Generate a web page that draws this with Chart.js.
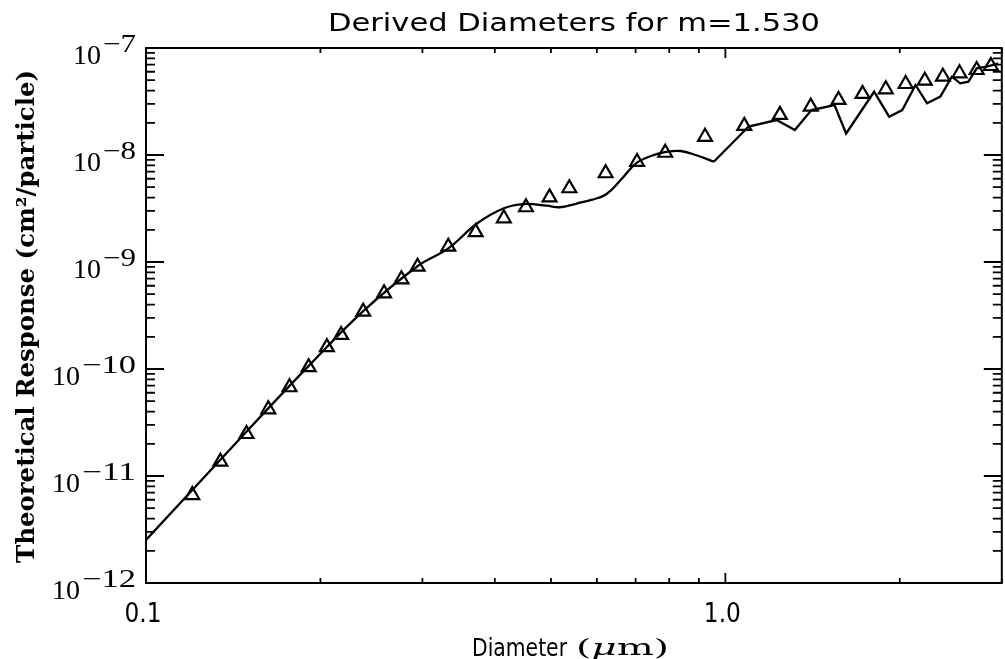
<!DOCTYPE html>
<html>
<head>
<meta charset="utf-8">
<title>Derived Diameters for m=1.530</title>
<script src="https://cdn.jsdelivr.net/npm/chart.js@4.4.1/dist/chart.umd.min.js"></script>
<style>
  html, body { margin: 0; padding: 0; background: #fff; }
  #wrap { width: 1005px; height: 659px; overflow: hidden; }
</style>
</head>
<body>
<div id="wrap"><canvas id="plot" width="1012" height="659"></canvas></div>
<script>
// Theoretical response, smooth rise up to ~0.95 um
const smoothDiam = [0.1, 0.1489, 0.1909, 0.2371, 0.2946, 0.3325, 0.3731, 0.4146, 0.4487,
  0.4919, 0.5176, 0.5537, 0.5872, 0.6229, 0.6608, 0.7012, 0.7439, 0.7894, 0.8374, 0.8884, 0.955];
const smoothResp = [2.52e-12, 2.58e-11, 1.07e-10, 3.48e-10, 9.18e-10, 1.34e-9, 2.30e-9, 3.18e-9, 3.48e-9,
  3.36e-9, 3.25e-9, 3.52e-9, 3.80e-9, 4.30e-9, 5.90e-9, 8.36e-9, 9.79e-9, 1.067e-8, 1.09e-8, 1.00e-8, 8.66e-9];

// Resonance region, sampled coarsely so it zig-zags
const ringDiam = [0.955, 1.082, 1.096, 1.226, 1.318, 1.408, 1.543, 1.616, 1.806, 1.917, 2.020,
  2.129, 2.229, 2.350, 2.460, 2.543, 2.627, 2.715, 2.824, 2.957];
const ringResp = [8.66e-9, 1.71e-8, 1.84e-8, 2.12e-8, 1.71e-8, 2.63e-8, 2.93e-8, 1.59e-8, 3.90e-8, 2.28e-8, 2.63e-8,
  4.51e-8, 3.04e-8, 3.51e-8, 5.39e-8, 4.68e-8, 4.84e-8, 6.46e-8, 6.68e-8, 7.19e-8];

// Derived diameters (triangles)
const derivedDiam = [0.1202, 0.1344, 0.1491, 0.1626, 0.1769, 0.1909, 0.2052, 0.2172, 0.2371, 0.2576,
  0.2760, 0.2943, 0.3325, 0.3707, 0.4146, 0.4527, 0.4972, 0.5379, 0.6214, 0.7040, 0.7873, 0.9223,
  1.078, 1.242, 1.404, 1.568, 1.725, 1.892, 2.047, 2.209, 2.374, 2.536, 2.715, 2.873];
const derivedResp = [6.64e-12, 1.36e-11, 2.47e-11, 4.20e-11, 6.75e-11, 1.04e-10, 1.60e-10, 2.08e-10, 3.43e-10, 5.10e-10,
  6.89e-10, 9.04e-10, 1.39e-9, 1.90e-9, 2.56e-9, 3.25e-9, 4.02e-9, 4.89e-9, 6.75e-9, 8.61e-9, 1.05e-8, 1.48e-8,
  1.87e-8, 2.37e-8, 2.83e-8, 3.27e-8, 3.72e-8, 4.11e-8, 4.61e-8, 4.95e-8, 5.39e-8, 5.80e-8, 6.23e-8, 6.79e-8];

// axis ticks
const xRange = [0.1, 3.0];
const yRange = [1e-12, 1e-7];
const xMajor = [0.1, 1.0];
const xTickLabels = ['0.1', '1.0'];
const xMinor = [0.2, 0.3, 0.4, 0.5, 0.6, 0.7, 0.8, 0.9, 2.0, 3.0];
const yExponents = [-12, -11, -10, -9, -8, -7];

const toPoints = (xs, ys) => xs.map((v, i) => ({ x: v, y: ys[i] }));

// stretch a string horizontally to a given width
function fitText(ctx, text, x, y, width, align) {
  const w = ctx.measureText(text).width;
  ctx.save();
  ctx.translate(x, y);
  ctx.scale(width / w, 1);
  ctx.textAlign = align;
  ctx.fillText(text, 0, 0);
  ctx.restore();
}

// IDL-style box: inward ticks on all four sides, plus all text
const idlFrame = {
  id: 'idlFrame',
  afterDraw(chart) {
    const { ctx, chartArea: a, scales: { x, y } } = chart;
    ctx.save();
    ctx.strokeStyle = '#000';
    ctx.fillStyle = '#000';
    ctx.lineWidth = 2;
    ctx.strokeRect(a.left, a.top, a.right - a.left, a.bottom - a.top);

    ctx.lineWidth = 1.8;
    ctx.beginPath();
    yExponents.forEach((e) => {
      const py = y.getPixelForValue(Math.pow(10, e));
      ctx.moveTo(a.left, py); ctx.lineTo(a.left + 18, py);
      ctx.moveTo(a.right, py); ctx.lineTo(a.right - 18, py);
      if (e === yExponents[yExponents.length - 1]) return;
      for (let k = 2; k <= 9; k++) {
        const pm = y.getPixelForValue(k * Math.pow(10, e));
        ctx.moveTo(a.left, pm); ctx.lineTo(a.left + 9, pm);
        ctx.moveTo(a.right, pm); ctx.lineTo(a.right - 9, pm);
      }
    });
    xMajor.forEach((v) => {
      const px = x.getPixelForValue(v);
      ctx.moveTo(px, a.bottom); ctx.lineTo(px, a.bottom - 10);
      ctx.moveTo(px, a.top); ctx.lineTo(px, a.top + 10);
    });
    xMinor.forEach((v) => {
      const px = x.getPixelForValue(v);
      ctx.moveTo(px, a.bottom); ctx.lineTo(px, a.bottom - 5);
      ctx.moveTo(px, a.top); ctx.lineTo(px, a.top + 5);
    });
    ctx.stroke();

    // y tick labels: 10 with a raised exponent
    ctx.textBaseline = 'alphabetic';
    yExponents.forEach((e) => {
      const py = y.getPixelForValue(Math.pow(10, e));
      const digits = String(Math.abs(e));
      const expW = 12 + 21 * digits.length;
      ctx.font = '25px "Liberation Serif"';
      fitText(ctx, '\u2212' + digits, 136, py + 4, expW, 'right');
      ctx.font = '28px "Liberation Serif"';
      fitText(ctx, '10', 134 - expW, py + 16, 28, 'right');
    });

    // x tick labels
    ctx.font = '27px "DejaVu Sans"';
    xMajor.forEach((v, i) => {
      const px = x.getPixelForValue(v);
      fitText(ctx, xTickLabels[i], px - 3, 622, 37, 'center');
    });

    // title
    ctx.font = '25px "DejaVu Sans"';
    fitText(ctx, 'Derived Diameters for m=1.530', 328, 31, 492, 'left');

    // x axis title: sans word, serif units with italic mu
    ctx.font = '25px "DejaVu Sans"';
    fitText(ctx, 'Diameter', 472, 656, 95, 'left');
    const parts = [
      ['(', '23px "DejaVu Serif"'],
      ['\u03bc', 'italic 23px "DejaVu Serif"'],
      ['m)', '23px "DejaVu Serif"'],
    ];
    let total = 0;
    parts.forEach(([t, f]) => { ctx.font = f; total += ctx.measureText(t).width; });
    const s = 93 / total;
    let cx = 576;
    parts.forEach(([t, f]) => {
      ctx.font = f;
      const w = ctx.measureText(t).width * s;
      fitText(ctx, t, cx, 655, w, 'left');
      cx += w;
    });

    // y axis title
    ctx.save();
    ctx.translate(34, 563);
    ctx.rotate(-Math.PI / 2);
    ctx.font = 'bold 24px "DejaVu Serif"';
    fitText(ctx, 'Theoretical Response (cm\u00b2/particle)', 0, 0, 493, 'left');
    ctx.restore();

    ctx.restore();
  },
};

new Chart(document.getElementById('plot').getContext('2d'), {
  type: 'scatter',
  data: {
    datasets: [
      {
        type: 'scatter',
        label: 'Derived',
        data: toPoints(derivedDiam, derivedResp),
        pointStyle: 'triangle',
        pointRadius: 8,
        borderWidth: 2.2,
        borderColor: '#000',
        backgroundColor: 'rgba(0,0,0,0)',
      },
      {
        type: 'line',
        label: 'Response',
        data: toPoints(smoothDiam, smoothResp),
        borderColor: '#000',
        borderWidth: 2.3,
        pointRadius: 0,
        tension: 0.4,
        fill: false,
      },
      {
        type: 'line',
        label: 'Response (resonances)',
        data: toPoints(ringDiam, ringResp),
        borderColor: '#000',
        borderWidth: 2.3,
        pointRadius: 0,
        tension: 0,
        fill: false,
      },
    ],
  },
  options: {
    responsive: false,
    animation: false,
    devicePixelRatio: 1,
    layout: { padding: { left: 146, top: 48, right: 3, bottom: 76 } },
    plugins: { legend: { display: false }, tooltip: { enabled: false }, title: { display: false } },
    scales: {
      x: { type: 'logarithmic', min: xRange[0], max: xRange[1], display: false },
      y: { type: 'logarithmic', min: yRange[0], max: yRange[1], display: false },
    },
  },
  plugins: [idlFrame],
});
</script>
</body>
</html>
